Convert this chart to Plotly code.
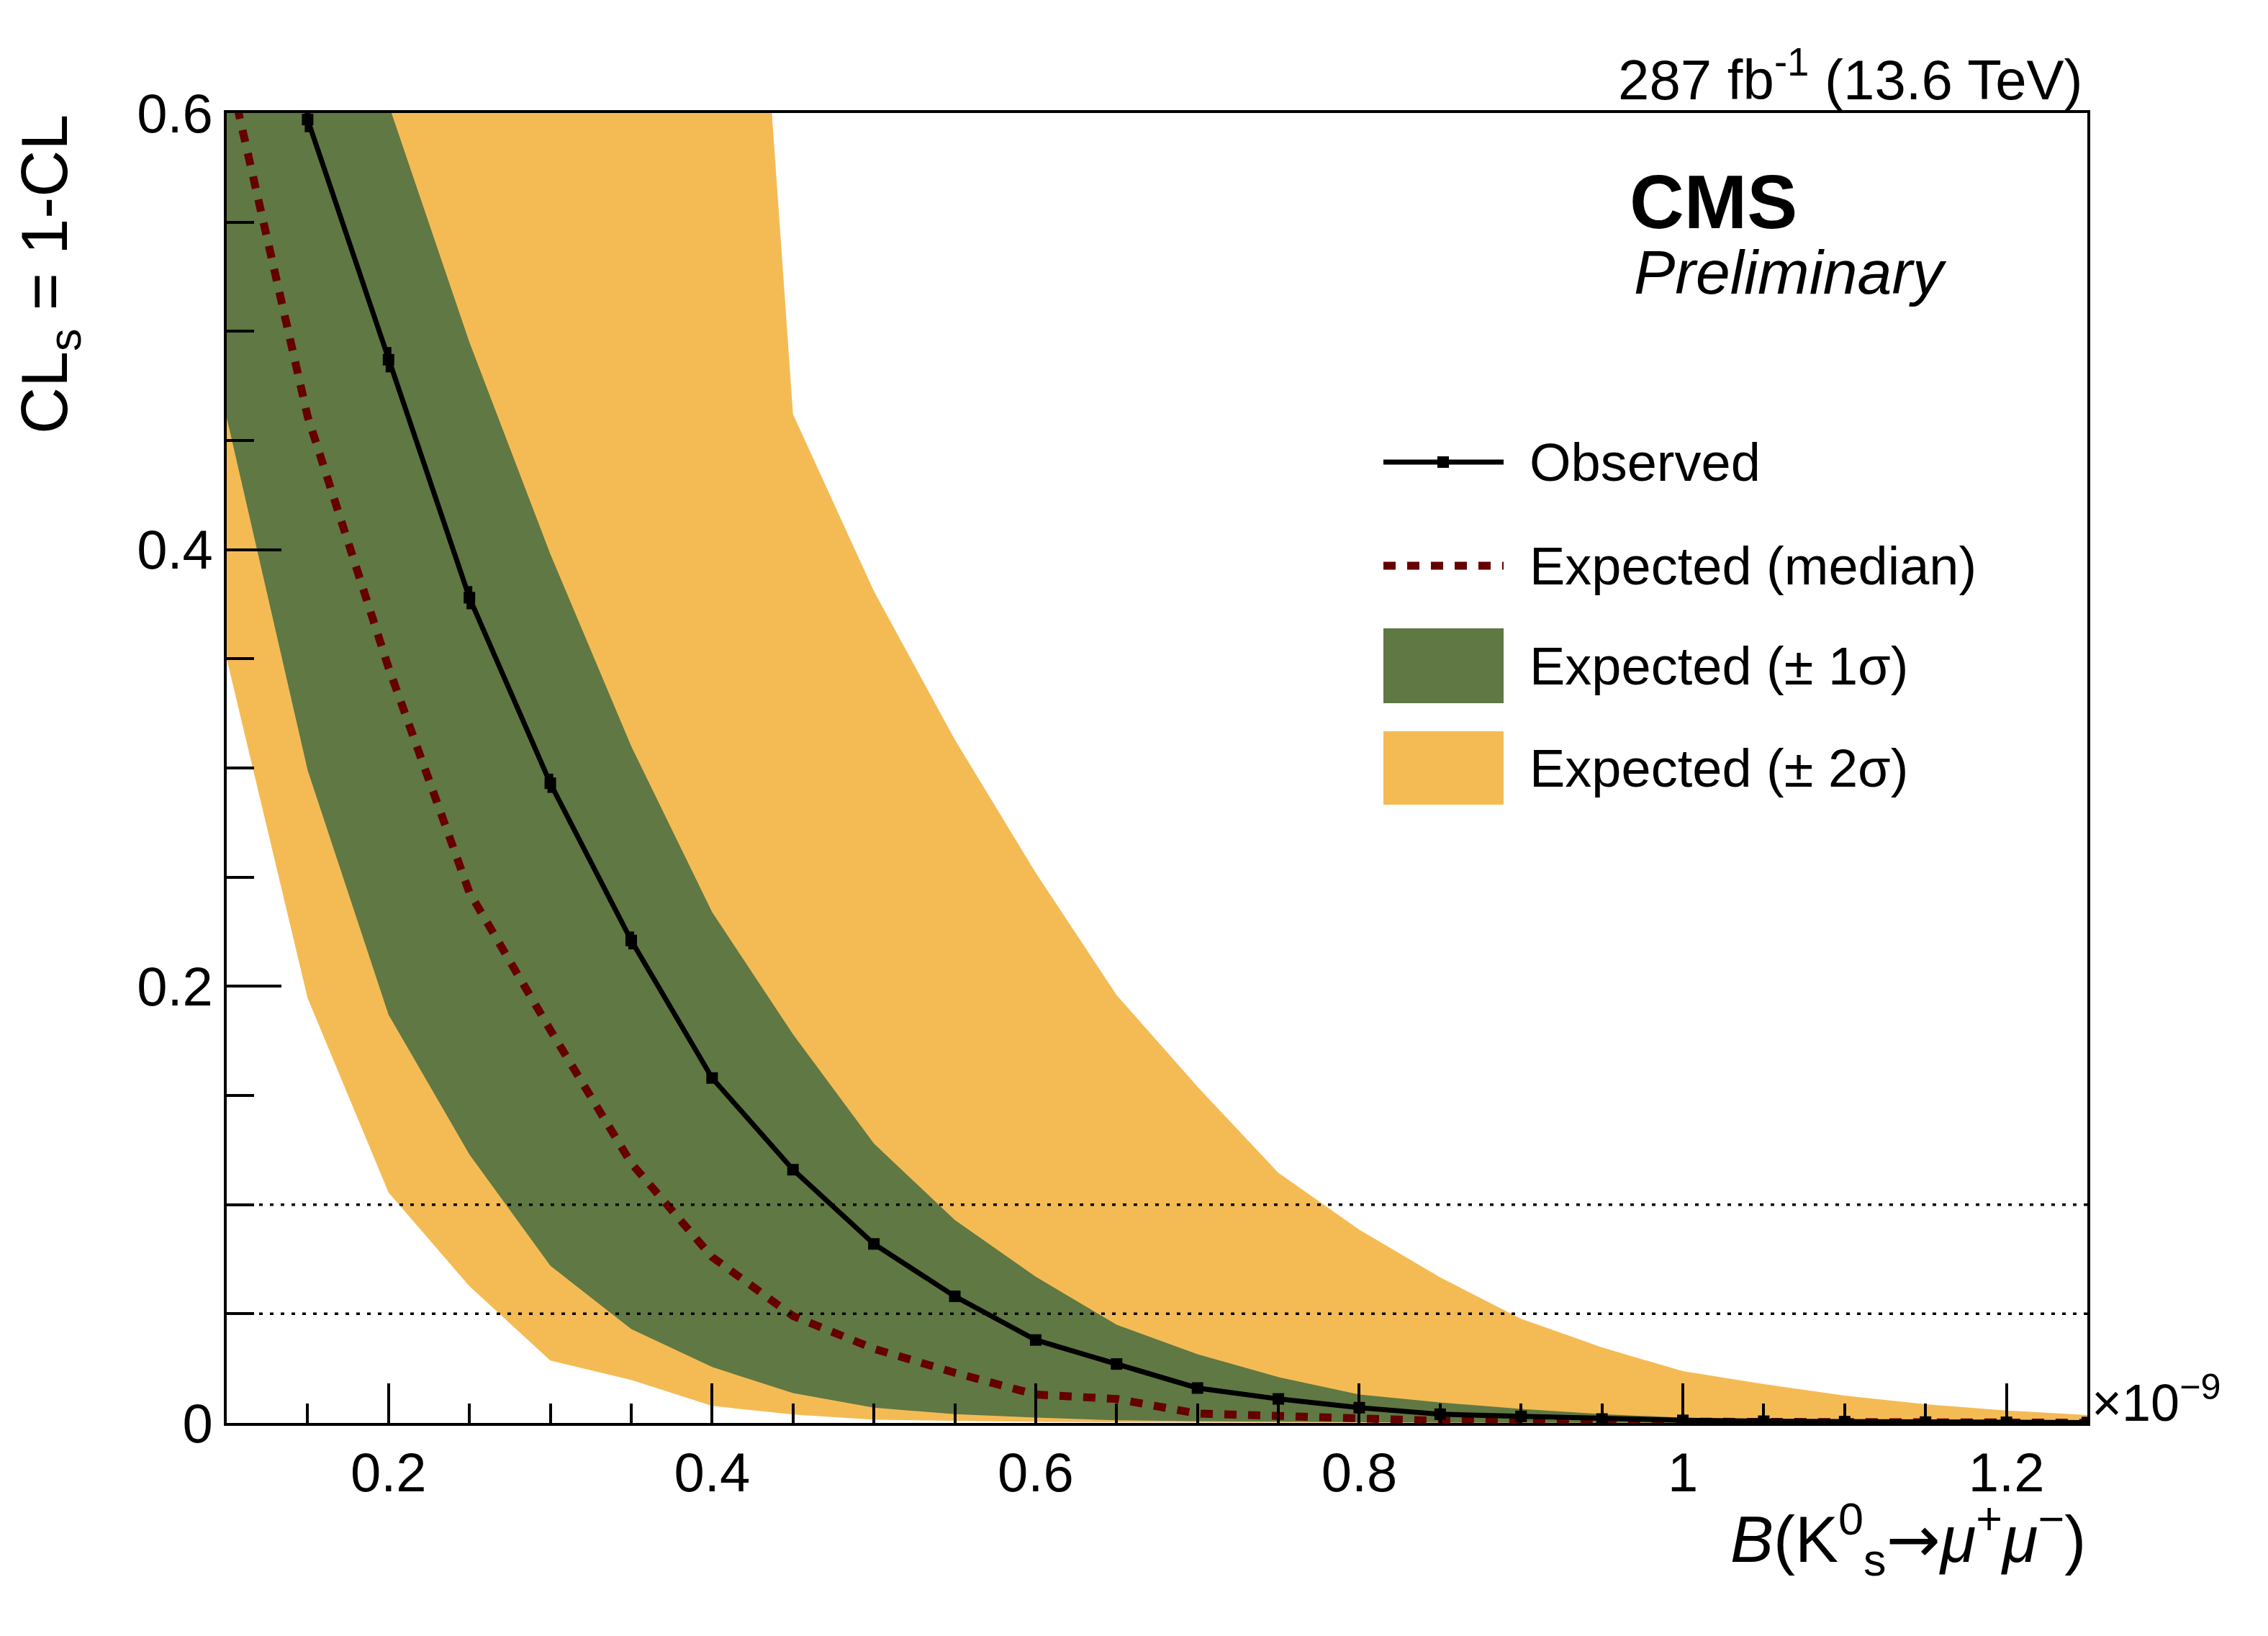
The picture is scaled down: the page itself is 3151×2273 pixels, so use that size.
import plotly.graph_objects as go

# branching fraction scan points (x 1e-9)
x_vals = [0.10, 0.15, 0.20, 0.25, 0.30, 0.35, 0.40, 0.45, 0.50, 0.55, 0.60, 0.65,
          0.70, 0.75, 0.80, 0.85, 0.90, 0.95, 1.00, 1.05, 1.10, 1.15, 1.20, 1.25]

obs_x = [0.15, 0.20, 0.25, 0.30, 0.35, 0.40, 0.45, 0.50, 0.55, 0.60, 0.65, 0.70,
         0.75, 0.80, 0.85, 0.90, 0.95, 1.00, 1.05, 1.10, 1.15, 1.20, 1.25]
observed = [0.597, 0.487, 0.378, 0.293, 0.221, 0.158, 0.116, 0.082, 0.058, 0.038, 0.027, 0.016,
            0.011, 0.007, 0.004, 0.003, 0.0018, 0.0012, 0.0008, 0.0006, 0.0004, 0.0003, 0.0002]
observed_err = [0.0058, 0.0058, 0.0053, 0.0044, 0.0041, 0.002, 0.0015, 0.001, 0.001, 0.0008, 0.0006, 0.0005,
                0.0004, 0.0003, 0.0002, 0.0002, 0.0001, 0.0001, 0.0001, 0.0001, 0.0001, 0.0001, 0.0001]

median = [0.624, 0.461, 0.346, 0.243, 0.180, 0.119, 0.076, 0.049, 0.034, 0.023, 0.013, 0.011,
          0.0043, 0.003, 0.0015, 0.001, 0.0008, 0.0006, 0.0005, 0.0004, 0.0003, 0.0002, 0.0002, 0.0001]

up1 = [0.80, 0.70, 0.604, 0.495, 0.398, 0.310, 0.234, 0.178, 0.128, 0.093, 0.067, 0.045,
       0.0315, 0.021, 0.013, 0.0094, 0.0064, 0.004, 0.0025, 0.0016, 0.001, 0.0007, 0.0005, 0.0003]
lo1 = [0.4605, 0.299, 0.187, 0.123, 0.072, 0.043, 0.0256, 0.0137, 0.0070, 0.004, 0.0025, 0.0012,
       0.0008, 0.0005, 0.0003, 0.0002, 0.0001, 0.0001, 0.0001, 0.0, 0.0, 0.0, 0.0, 0.0]

up2 = [1.0, 1.0, 1.0, 1.0, 1.0, 1.0, 0.99, 0.462, 0.381, 0.313, 0.252, 0.196,
       0.154, 0.1146, 0.0885, 0.0667, 0.0477, 0.0346, 0.0237, 0.0178, 0.0125, 0.0086, 0.0057, 0.0036]
lo2 = [0.350, 0.1946, 0.1056, 0.0626, 0.0286, 0.0197, 0.0078, 0.0039, 0.0015, 0.0010, 0.0005, 0.0003,
       0.0002, 0.0001, 0.0, 0.0, 0.0, 0.0, 0.0, 0.0, 0.0, 0.0, 0.0, 0.0]

cl_levels = [0.05, 0.10]

legend_labels = ['Observed', 'Expected (median)', 'Expected (± 1σ)', 'Expected (± 2σ)']

GREEN = '#607843'
YELLOW = '#f4bb55'
MEDIAN = '#660000'
FONT = 'Liberation Sans, Arial, sans-serif'
MEDIAN_DASH = '17px,16px'

fig = go.Figure()

# 2 sigma band
fig.add_trace(go.Scatter(x=x_vals, y=lo2, mode='lines', line=dict(width=0, color=YELLOW),
                         showlegend=False, hoverinfo='skip'))
fig.add_trace(go.Scatter(x=x_vals, y=up2, mode='lines', line=dict(width=0, color=YELLOW),
                         fill='tonexty', fillcolor=YELLOW, showlegend=False, hoverinfo='skip'))
# 1 sigma band
fig.add_trace(go.Scatter(x=x_vals, y=lo1, mode='lines', line=dict(width=0, color=GREEN),
                         showlegend=False, hoverinfo='skip'))
fig.add_trace(go.Scatter(x=x_vals, y=up1, mode='lines', line=dict(width=0, color=GREEN),
                         fill='tonexty', fillcolor=GREEN, showlegend=False, hoverinfo='skip'))

for lev in cl_levels:
    fig.add_hline(y=lev, line=dict(color='black', width=3.5, dash='5px,10px'))

fig.add_trace(go.Scatter(x=x_vals, y=median, mode='lines',
                         line=dict(color=MEDIAN, width=11, dash=MEDIAN_DASH), showlegend=False))
fig.add_trace(go.Scatter(x=obs_x, y=observed, mode='lines+markers',
                         line=dict(color='black', width=7),
                         marker=dict(symbol='square', size=16, color='black'),
                         error_y=dict(type='data', array=observed_err, color='black', thickness=8, width=0),
                         showlegend=False))

axis_common = dict(showline=True, linecolor='black', linewidth=4, mirror=True,
                   ticks='inside', tickcolor='black', tickwidth=4, showgrid=False, zeroline=False,
                   tickfont=dict(family=FONT, size=76, color='black'))

fig.update_xaxes(range=[0.1, 1.25], dtick=0.2, tick0=0, ticklen=55,
                 minor=dict(ticks='inside', ticklen=27, tickwidth=4, tickcolor='black', dtick=0.05, tick0=0, showgrid=False),
                 **axis_common)
fig.update_yaxes(range=[0, 0.6], dtick=0.2, tick0=0, ticklen=76,
                 minor=dict(ticks='inside', ticklen=38, tickwidth=4, tickcolor='black', dtick=0.05, tick0=0, showgrid=False),
                 **axis_common)

# page body has an 8px margin, so the figure is shifted by that much
OFF = 8
W, H = 3151 - 2 * OFF, 2273 - 2 * OFF
plot_left, plot_right, plot_top, plot_bottom = 315, 2900, 157, 1977
L = plot_left - OFF
T = plot_top - OFF
R = W - L - (plot_right - plot_left)
B = H - T - (plot_bottom - plot_top)
pw, ph = plot_right - plot_left, plot_bottom - plot_top


def px(xp):
    return (xp - plot_left) / pw


def py(yp):
    return (plot_bottom - yp) / ph


ARROW = '<span style="font-family:DejaVu Sans">→</span>'

annotations = [
    dict(text='CL<sub>s</sub> = 1-CL', x=px(68), y=1.0, xanchor='center', yanchor='top',
         textangle=-90, font=dict(size=90)),
    dict(text='<i>B</i>(K<sup>0</sup><sub>s</sub>' + ARROW + '<i>μ</i><sup>+</sup><i>μ</i><sup>−</sup>)',
         x=1.0, y=py(2138), xanchor='right', yanchor='middle', font=dict(size=90)),
    dict(text='×10<sup>−9</sup>', x=1.0, y=0.0, xanchor='left', yanchor='bottom', xshift=4, yshift=-14,
         font=dict(size=72)),
    dict(text='287 fb<sup>-1</sup> (13.6 TeV)', x=1.0, y=1.0, xanchor='right', yanchor='bottom',
         xshift=-4, font=dict(size=78)),
    dict(text='<b>CMS</b>', x=px(2262), y=py(281), xanchor='left', yanchor='middle', font=dict(size=105)),
    dict(text='<i>Preliminary</i>', x=px(2268), y=py(378), xanchor='left', yanchor='middle', font=dict(size=86)),
]

# legend drawn by hand
row_y = [642, 786, 925, 1067]
sx0, sx1 = 1922, 2089
for lab, ry in zip(legend_labels, row_y):
    annotations.append(dict(text=lab, x=px(2123), y=py(ry), xanchor='left', yanchor='middle',
                            font=dict(size=74)))

shapes = [
    dict(type='line', xref='paper', yref='paper', x0=px(sx0), x1=px(sx1), y0=py(row_y[0]), y1=py(row_y[0]),
         line=dict(color='black', width=7)),
    dict(type='rect', xref='paper', yref='paper', x0=px(1997), x1=px(2013), y0=py(row_y[0] - 8), y1=py(row_y[0] + 8),
         fillcolor='black', line=dict(width=0)),
    dict(type='line', xref='paper', yref='paper', x0=px(sx0), x1=px(sx1), y0=py(row_y[1]), y1=py(row_y[1]),
         line=dict(color=MEDIAN, width=11, dash=MEDIAN_DASH)),
    dict(type='rect', xref='paper', yref='paper', x0=px(sx0), x1=px(sx1), y0=py(row_y[2] - 52), y1=py(row_y[2] + 52),
         fillcolor=GREEN, line=dict(width=0)),
    dict(type='rect', xref='paper', yref='paper', x0=px(sx0), x1=px(sx1), y0=py(row_y[3] - 51), y1=py(row_y[3] + 51),
         fillcolor=YELLOW, line=dict(width=0)),
]

for a in annotations:
    a.setdefault('xref', 'paper')
    a.setdefault('yref', 'paper')
    a['showarrow'] = False

fig.update_layout(
    width=W, height=H,
    margin=dict(l=L, r=R, t=T, b=B),
    paper_bgcolor='white', plot_bgcolor='white',
    font=dict(family=FONT, color='black'),
    showlegend=False,
    annotations=annotations,
    shapes=list(fig.layout.shapes) + shapes,
)

fig.write_html('out.html')
